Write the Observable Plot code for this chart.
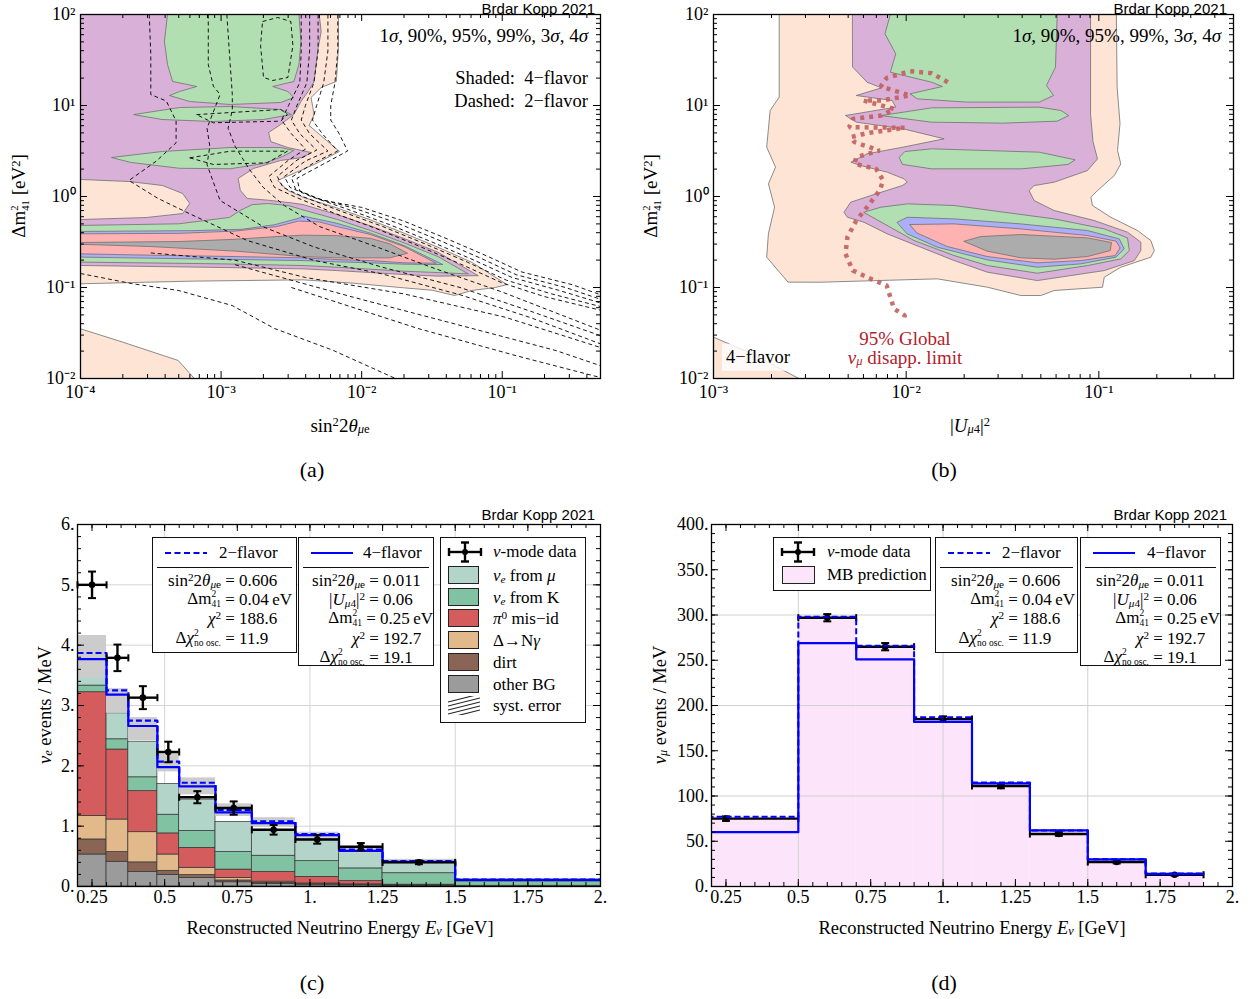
<!DOCTYPE html>
<html><head><meta charset="utf-8">
<script src="https://cdn.jsdelivr.net/npm/d3@7"></script>
<script src="https://cdn.jsdelivr.net/npm/@observablehq/plot@0.6"></script>
<style>
html,body{margin:0;padding:0;background:#fff;}
#root{position:relative;width:1255px;height:999px;overflow:hidden;font-family:"Liberation Serif","Times New Roman",serif;color:#000;}
.pnl{position:absolute;}
.t{position:absolute;white-space:nowrap;line-height:1;}
.c{transform:translate(-50%,-50%);}
.rot{transform:translate(-50%,-50%) rotate(-90deg);}
.ss{display:inline-block;vertical-align:-0.36em;line-height:1;font-size:0.56em;text-align:left;}
.ss>span{display:block;}
.credit{font-family:"Liberation Sans",Arial,sans-serif;font-size:15px;}
.box{position:absolute;border:1.3px solid #111;background:#fff;font-size:17px;box-sizing:border-box;}
.row{position:absolute;left:0;right:0;height:19px;display:flex;align-items:center;white-space:nowrap;line-height:1;}
.lhs{display:inline-block;text-align:right;}
.sw{position:absolute;width:31px;height:18px;border:1px solid #222;box-sizing:border-box;}
sub,sup{font-size:0.66em;line-height:0;}
sub{vertical-align:-0.14em;}
sup{vertical-align:0.42em;}
</style></head><body><div id="root"></div>
<script>
// ======================= DATA =======================
// Panel (a): 4-flavour allowed regions, vertices [log10 sin²2θμe, log10 Δm²41 (eV²)]
const aRegion4sigma = [[-4,2],[-2.165,2],[-2.165,1.637],[-2.18,1.264],[-2.288,1.198],[-2.36,1.088],[-2.338,0.901],[-2.374,0.78],[-2.158,0.495],[-2.338,0.352],[-2.597,0.176],[-2.525,0.066],[-2.417,-0.008],[-2.177,-0.125],[-1.937,-0.257],[-1.698,-0.403],[-1.458,-0.557],[-1.218,-0.722],[-0.966,-0.968],[-1.05,-1.0],[-1.218,-1.033],[-1.338,-1.088],[-1.5,-1.03],[-1.698,-1.004],[-2.057,-0.953],[-2.417,-0.916],[-3.2,-0.93],[-4,-0.959]];
const aRegion3sigma = [[-4,2],[-2.302,2],[-2.288,1.813],[-2.309,1.637],[-2.324,1.451],[-2.338,1.264],[-2.381,1.154],[-2.432,1.044],[-2.482,0.901],[-2.576,0.791],[-2.662,0.703],[-2.647,0.604],[-2.525,0.538],[-2.36,0.484],[-2.417,0.429],[-2.576,0.396],[-2.77,0.308],[-2.878,0.198],[-2.863,0.066],[-2.813,-0.022],[-2.669,-0.04],[-2.5,-0.07],[-2.417,-0.088],[-2.177,-0.198],[-1.937,-0.323],[-1.698,-0.462],[-1.458,-0.612],[-1.17,-0.87],[-1.458,-0.875],[-1.698,-0.858],[-1.937,-0.836],[-2.177,-0.814],[-2.417,-0.795],[-3,-0.78],[-4,-0.758]];
const aHole4sigma = [[-4,0.187],[-3.655,0.165],[-3.417,0.121],[-3.273,0.033],[-3.223,-0.077],[-3.273,-0.187],[-3.532,-0.231],[-4,-0.253]];
const aRegion99Top = [[-3.381,2],[-3.403,1.703],[-3.381,1.451],[-3.345,1.264],[-3.173,1.209],[-3.295,1.154],[-3.367,1.11],[-3.223,1.044],[-2.935,1.011],[-2.576,1.033],[-2.482,1.088],[-2.525,1.154],[-2.633,1.209],[-2.482,1.264],[-2.446,1.451],[-2.432,1.703],[-2.446,2]];
const aRegion99Lens1 = [[-3.619,0.901],[-3.295,0.978],[-2.935,0.989],[-2.576,0.956],[-2.5,0.901],[-2.698,0.846],[-3.058,0.824],[-3.417,0.846]];
const aRegion99Lens2 = [[-3.777,0.429],[-3.417,0.495],[-2.935,0.538],[-2.576,0.538],[-2.482,0.505],[-2.561,0.44],[-2.698,0.363],[-2.935,0.305],[-3.295,0.31],[-3.64,0.374]];
const aRegion99Low = [[-4,-0.318],[-3.3,-0.3],[-2.94,-0.23],[-2.86,-0.15],[-2.78,-0.09],[-2.67,-0.077],[-2.52,-0.1],[-2.417,-0.147],[-2.177,-0.25],[-1.937,-0.374],[-1.698,-0.51],[-1.458,-0.66],[-1.242,-0.85],[-1.458,-0.836],[-1.698,-0.821],[-1.937,-0.799],[-2.177,-0.777],[-2.417,-0.759],[-3,-0.74],[-4,-0.721]];
const aRegion95 = [[-4,-0.384],[-3.2,-0.375],[-2.85,-0.36],[-2.62,-0.31],[-2.45,-0.24],[-2.417,-0.215],[-2.177,-0.294],[-1.937,-0.403],[-1.698,-0.539],[-1.422,-0.748],[-1.698,-0.744],[-1.937,-0.729],[-2.177,-0.718],[-2.417,-0.704],[-3,-0.69],[-4,-0.666]];
const aRegion90 = [[-4,-0.41],[-3.3,-0.405],[-2.9,-0.38],[-2.6,-0.33],[-2.45,-0.27],[-2.3,-0.28],[-2.177,-0.33],[-1.937,-0.418],[-1.698,-0.55],[-1.47,-0.733],[-1.698,-0.729],[-1.937,-0.704],[-2.177,-0.693],[-2.417,-0.674],[-2.9,-0.66],[-3.5,-0.645],[-4,-0.63]];
const aRegion1sigma = [[-4,-0.505],[-3.3,-0.495],[-2.9,-0.47],[-2.6,-0.44],[-2.417,-0.425],[-2.177,-0.43],[-1.937,-0.46],[-1.8,-0.52],[-1.674,-0.623],[-1.8,-0.674],[-2.177,-0.674],[-2.417,-0.66],[-2.9,-0.6],[-3.5,-0.55],[-4,-0.525]];
const aCorner4sigma = [[-4,-1.454],[-3.7,-1.6],[-3.305,-1.802],[-3.19,-2],[-4,-2]];
// Panel (a): 2-flavour contours (dashed), same coordinates
const aDashed2f = [
 [[-2.43,2],[-2.43,1.6],[-2.44,1.25],[-2.52,1],[-2.57,0.84],[-2.5,0.69],[-2.4,0.52],[-2.52,0.4],[-2.66,0.22],[-2.62,0.1],[-2.48,0],[-2.2,-0.18],[-1.9,-0.35],[-1.6,-0.54],[-1.3,-0.74],[-1,-0.95],[-0.7,-1.1],[-0.3,-1.25]],
 [[-2.37,2],[-2.37,1.6],[-2.39,1.25],[-2.46,1],[-2.5,0.84],[-2.44,0.69],[-2.32,0.51],[-2.46,0.4],[-2.6,0.22],[-2.56,0.1],[-2.42,0],[-2.15,-0.16],[-1.85,-0.33],[-1.55,-0.52],[-1.25,-0.72],[-0.97,-0.92],[-0.65,-1.07],[-0.3,-1.21]],
 [[-2.31,2],[-2.31,1.6],[-2.34,1.25],[-2.4,1],[-2.43,0.84],[-2.37,0.69],[-2.24,0.5],[-2.4,0.39],[-2.55,0.22],[-2.51,0.1],[-2.36,0],[-2.1,-0.14],[-1.8,-0.31],[-1.5,-0.5],[-1.2,-0.7],[-0.93,-0.89],[-0.6,-1.03],[-0.3,-1.17]],
 [[-2.24,2],[-2.24,1.6],[-2.27,1.25],[-2.32,1],[-2.35,0.84],[-2.28,0.69],[-2.17,0.5],[-2.34,0.37],[-2.5,0.21],[-2.47,0.08],[-2.32,-0.02],[-2.05,-0.13],[-1.75,-0.29],[-1.45,-0.48],[-1.15,-0.68],[-0.9,-0.86],[-0.55,-1],[-0.3,-1.13]],
 [[-2.17,2],[-2.17,1.6],[-2.19,1.25],[-2.22,1],[-2.22,0.84],[-2.16,0.69],[-2.1,0.5],[-2.28,0.35],[-2.46,0.2],[-2.44,0.06],[-2.28,-0.04],[-2,-0.12],[-1.7,-0.27],[-1.4,-0.46],[-1.1,-0.66],[-0.86,-0.83],[-0.5,-0.97],[-0.3,-1.08]],
 [[-2.705,1.923],[-2.597,1.967],[-2.504,1.923],[-2.489,1.659],[-2.525,1.308],[-2.633,1.275],[-2.698,1.308],[-2.719,1.659],[-2.705,1.923]],
 [[-3.175,0.9],[-2.576,0.956],[-2.528,0.901],[-2.576,0.828],[-3.055,0.81],[-3.175,0.9]],
 [[-3.223,0.425],[-2.935,0.498],[-2.528,0.498],[-2.671,0.37],[-3.055,0.352],[-3.223,0.425]],
 [[-3.511,2],[-3.5,1.56],[-3.5,1.12],[-3.39,1.05],[-3.32,0.83],[-3.32,0.59],[-3.46,0.39],[-3.655,0.176],[-3.45,-0.02],[-3.223,-0.19],[-2.815,-0.483],[-2.336,-0.703],[-1.856,-0.85],[-1.3,-1.08],[-0.8,-1.33],[-0.3,-1.62]],
 [[-3.091,2],[-3.091,1.451],[-3.055,1.212],[-3.007,1.121],[-3.05,0.95],[-3.1,0.75],[-3.08,0.55],[-3.1,0.35],[-3.007,-0.044],[-2.695,-0.337],[-2.336,-0.556],[-1.856,-0.776],[-1.3,-1],[-0.8,-1.26],[-0.3,-1.53]],
 [[-2.959,2],[-2.935,1.451],[-2.92,1.12],[-2.92,0.95],[-2.95,0.75],[-2.9,0.55],[-2.8,0.3],[-2.7,0.1],[-2.55,-0.1],[-2.3,-0.33],[-1.9,-0.55],[-1.5,-0.78],[-1,-1.05],[-0.3,-1.47]],
 [[-4,-0.846],[-3.64,-0.956],[-3.302,-1.033],[-2.921,-1.198],[-2.619,-1.451],[-2.201,-1.692],[-1.76,-2]],
 [[-3.5,-0.62],[-2.9,-0.7],[-2.4,-0.89],[-1.7,-1.07],[-0.978,-1.327],[-0.3,-1.66]],
 [[-2.9,-0.75],[-2.06,-1.107],[-1.338,-1.4],[-0.618,-1.693],[-0.3,-1.86]],
 [[-2.5,-1],[-1.6,-1.45],[-0.9,-1.75],[-0.3,-1.99]]
];
// Panel (b): vertices [log10 |Uμ4|², log10 Δm²41]
const bRegion4sigma = [[-2.659,2],[-2.659,1.092],[-2.706,0.945],[-2.724,0.542],[-2.678,0.322],[-2.715,0.139],[-2.683,-0.117],[-2.715,-0.41],[-2.724,-0.667],[-2.613,-0.941],[-2.444,-0.942],[-1.838,-0.905],[-1.578,-0.997],[-1.405,-1.088],[-1.301,-1.088],[-1.232,-1.033],[-0.981,-0.997],[-0.972,-0.887],[-0.886,-0.777],[-0.73,-0.667],[-0.712,-0.594],[-0.73,-0.484],[-0.799,-0.374],[-0.938,-0.228],[-1.033,-0.099],[-1.041,-0.008],[-1.007,0.065],[-0.92,0.23],[-0.886,0.358],[-0.903,0.505],[-0.89,0.8],[-0.905,1.2],[-0.909,2]];
const bRegion3sigma = [[-2.277,2],[-1.043,2],[-1.043,0.9],[-1.03,0.6],[-1.007,0.413],[-1.059,0.285],[-1.232,0.157],[-1.336,0.12],[-1.362,0.065],[-1.336,-0.044],[-1.232,-0.154],[-1.024,-0.264],[-0.851,-0.392],[-0.782,-0.502],[-0.782,-0.594],[-0.816,-0.704],[-0.972,-0.814],[-1.319,-0.924],[-1.578,-0.832],[-1.751,-0.704],[-1.925,-0.557],[-2.098,-0.411],[-2.219,-0.283],[-2.305,-0.228],[-2.323,-0.173],[-2.288,-0.063],[-2.184,0.01],[-2.02,0.12],[-1.994,0.157],[-2.011,0.194],[-2.098,0.267],[-2.236,0.34],[-2.287,0.377],[-2.203,0.469],[-2.017,0.542],[-1.803,0.634],[-2.017,0.744],[-2.259,0.817],[-2.315,0.89],[-2.054,0.982],[-2.073,1.055],[-2.259,1.11],[-2.128,1.194],[-2.203,1.256],[-2.277,1.421]];
const bRegion99Top = [[-2.082,2],[-2.11,1.788],[-2.054,1.568],[-2.082,1.366],[-1.868,1.256],[-1.812,1.209],[-1.98,1.128],[-1.942,1.073],[-1.682,1.037],[-1.309,1.037],[-1.235,1.11],[-1.272,1.22],[-1.225,1.421],[-1.216,2]];
const bRegion99Lens1 = [[-2.128,0.89],[-1.868,0.974],[-1.309,0.982],[-1.197,0.945],[-1.156,0.89],[-1.216,0.828],[-1.495,0.806],[-1.868,0.817]];
const bRegion99Lens2 = [[-2.035,0.432],[-2.007,0.494],[-1.868,0.524],[-1.309,0.487],[-1.123,0.403],[-1.16,0.352],[-1.402,0.304],[-1.868,0.304],[-2.017,0.352]];
const bRegion99Low = [[-2.219,-0.173],[-2.132,-0.118],[-1.994,-0.081],[-1.751,-0.099],[-1.492,-0.173],[-1.232,-0.246],[-0.972,-0.356],[-0.851,-0.455],[-0.842,-0.594],[-0.886,-0.686],[-1.059,-0.759],[-1.319,-0.843],[-1.578,-0.759],[-1.751,-0.649],[-1.959,-0.484],[-2.098,-0.319]];
const bRegion95 = [[-2.046,-0.283],[-1.994,-0.228],[-1.751,-0.246],[-1.405,-0.301],[-1.059,-0.374],[-0.894,-0.466],[-0.868,-0.576],[-0.912,-0.667],[-1.093,-0.74],[-1.319,-0.777],[-1.578,-0.697],[-1.838,-0.557],[-1.994,-0.411]];
const bRegion90 = [[-1.98,-0.308],[-1.751,-0.301],[-1.405,-0.356],[-1.059,-0.429],[-0.91,-0.491],[-0.89,-0.565],[-0.915,-0.649],[-1.093,-0.704],[-1.319,-0.729],[-1.578,-0.66],[-1.786,-0.55],[-1.942,-0.403]];
const bRegion1sigma = [[-1.699,-0.491],[-1.613,-0.44],[-1.405,-0.418],[-1.059,-0.455],[-0.934,-0.506],[-0.941,-0.594],[-1.059,-0.66],[-1.232,-0.689],[-1.405,-0.674],[-1.578,-0.601]];
const bCorner4sigma = [[-3,-1.546],[-2.799,-1.729],[-2.557,-2],[-3,-2]];
const bNumuDisappLimit = [[-1.784,1.256],[-1.868,1.355],[-1.98,1.377],[-2.101,1.304],[-2.132,1.209],[-1.98,1.11],[-2.128,1.055],[-2.222,1.055],[-2.063,0.963],[-2.128,0.89],[-2.277,0.853],[-2.296,0.762],[-2.007,0.755],[-2.203,0.696],[-2.287,0.652],[-2.268,0.597],[-2.138,0.505],[-2.259,0.432],[-2.268,0.359],[-2.156,0.304],[-2.119,0.176],[-2.138,0.066],[-2.203,-0.117],[-2.259,-0.264],[-2.305,-0.447],[-2.315,-0.63],[-2.277,-0.813],[-2.184,-0.905],[-2.101,-0.978],[-2.082,-1.106],[-2.063,-1.234],[-2.007,-1.308],[-2.013,-1.381]];
const logXTicksA = [1e-4,1e-3,1e-2,1e-1];
const logXTicksB = [1e-3,1e-2,1e-1];
const logYTicks = [1e-2,1e-1,1,10,100];

// Panel (c): MiniBooNE nu-mode electron-like events / MeV
const cEdges = [0.2,0.3,0.375,0.475,0.55,0.675,0.8,0.95,1.1,1.25,1.5,3.0];
const cOtherBG = [0.53,0.41,0.24,0.19,0.14,0.07,0.04,0.03,0.02,0.01,0.005];
const cDirt = [0.25,0.16,0.16,0.07,0.05,0.03,0.02,0.01,0.01,0.005,0.003];
const cDeltaNgamma = [0.39,0.54,0.5,0.27,0.12,0.04,0.02,0.01,0.005,0.005,0.002];
const cPi0 = [2.05,1.16,0.68,0.35,0.33,0.14,0.16,0.11,0.055,0.01,0.002];
const cNueFromK = [0.11,0.17,0.23,0.31,0.28,0.29,0.27,0.26,0.21,0.19,0.073];
const cNueFromMu = [0.28,0.43,0.59,0.51,0.52,0.5,0.41,0.36,0.29,0.16,0.015];
const cSystLow = [3.45,2.87,2.42,1.9,1.52,1.16,0.98,0.8,0.55,0.37,0.09];
const cSystHigh = [4.16,3.28,2.8,2.22,1.8,1.37,1.14,0.9,0.64,0.45,0.13];
const c4flavor = [3.77,3.18,2.66,1.98,1.66,1.23,1.05,0.85,0.59,0.41,0.11];
const c2flavor = [3.87,3.25,2.75,2.07,1.72,1.27,1.08,0.87,0.61,0.42,0.115];
const cData = [5.0,3.79,3.13,2.23,1.48,1.30,0.94,0.78,0.66,0.40];
const cDataErr = [0.22,0.22,0.19,0.17,0.1,0.11,0.08,0.07,0.06,0.03];
const cXTicks = [0.25,0.5,0.75,1,1.25,1.5,1.75,2];
const cYTicks = [0,1,2,3,4,5,6];

// Panel (d): MiniBooNE nu-mode muon-like events / MeV
const dEdges = [0,0.5,0.7,0.9,1.1,1.3,1.5,1.7,1.9];
const dData = [75,297,265,185,111,58,27,13];
const dDataErr = [2.5,4,4,3,2.5,2,1.5,1];
const dMBprediction = [77,298,266,187,115,62,30,14.3];
const d2flavor = [77,298,266,187,115,62,30,14.3];
const d4flavor = [60,269,251,182,114,62,30,14];
const dXTicks = [0.25,0.5,0.75,1,1.25,1.5,1.75,2];
const dYTicks = [0,50,100,150,200,250,300,350,400];

// ======================= STYLE =======================
const COL = {s4:"#fde4d5", s3:"#d8b0d8", c99:"#b2dfb2", c95:"#acaef8", c90:"#ffb2b2", s1:"#acacac"};
const STACK = {other:"#9b9b9b", dirt:"#8a6555", delta:"#e2b98a", pi0:"#d45c5c", K:"#80c2a1", mu:"#b3d5c9"};
const PINK = "#fce4fa";
const PSTYLE = {fontFamily:"Liberation Serif, Times New Roman, serif", fontSize:"18px", background:"transparent", overflow:"visible"};

// ======================= HELPERS =======================
const root = document.getElementById("root");
const SUP = {"-":"⁻","0":"⁰","1":"¹","2":"²","3":"³","4":"⁴","5":"⁵","6":"⁶","7":"⁷","8":"⁸","9":"⁹"};
const pow10 = v => "10" + String(Math.round(Math.log10(v))).replace(/./g, c => SUP[c]);
const mma = v => Number.isInteger(v) ? v + "." : String(v);
const toPts = arr => arr.map(([lx, ly]) => ({x: 10 ** lx, y: 10 ** ly}));
const poly = (arr, fill) => Plot.line(toPts(arr), {x:"x", y:"y", fill, stroke:"#707070", strokeWidth:0.8, curve:"linear-closed", clip:true});
const dashLine = arr => Plot.line(toPts(arr), {x:"x", y:"y", stroke:"#000", strokeWidth:0.9, strokeDasharray:"4,3", strokeLinecap:"butt", clip:true});
function logMinor(lo, hi){ const o=[]; for(let k=-5;k<=3;k++) for(let m=2;m<=9;m++){const v=m*10**k; if(v>lo*1.0001&&v<hi*0.9999) o.push(v);} return o; }
function linMinor(lo, hi, step){ const o=[]; for(let v=lo; v<=hi+1e-9; v+=step) o.push(+v.toFixed(6)); return o; }
function frameTicks(xMaj, xMin, yMaj, yMin, fw, fh){
  const m = [];
  for (const [xs, len] of [[xMaj, 7], [xMin, 4]]) {
    m.push(Plot.tickX(xs, {x: d=>d, insetTop: fh-len, stroke:"#000"}));
    m.push(Plot.tickX(xs, {x: d=>d, insetBottom: fh-len, stroke:"#000"}));
  }
  for (const [ys, len] of [[yMaj, 7], [yMin, 4]]) {
    m.push(Plot.tickY(ys, {y: d=>d, insetRight: fw-len, stroke:"#000"}));
    m.push(Plot.tickY(ys, {y: d=>d, insetLeft: fw-len, stroke:"#000"}));
  }
  return m;
}
function place(el, left, top){ const d=document.createElement("div"); d.className="pnl"; d.style.left=left+"px"; d.style.top=top+"px"; d.appendChild(el); root.appendChild(d); return el; }
function txt(html, x, y, cls="c", extra=""){ const d=document.createElement("div"); d.className="t "+cls; d.style.cssText += `left:${x}px;top:${y}px;${extra}`; d.innerHTML=html; root.appendChild(d); return d; }
function rtxt(html, xr, y, extra=""){ const d=document.createElement("div"); d.className="t"; d.style.cssText += `right:${1255-xr}px;top:${y}px;transform:translateY(-50%);${extra}`; d.innerHTML=html; root.appendChild(d); return d; }
function steps(edges, vals){ const p=[]; vals.forEach((v,i)=>{p.push({x:edges[i],y:v},{x:edges[i+1],y:v});}); return p; }
const hcap = {draw(ctx, size){ const w=Math.sqrt(size)/2; ctx.moveTo(-w,0); ctx.lineTo(w,0); }};
const vcap = {draw(ctx, size){ const w=Math.sqrt(size)/2; ctx.moveTo(0,-w); ctx.lineTo(0,w); }};
function dataMarks(edges, vals, errs, xc){
  const rows = vals.map((v,i)=>({x1:edges[i], x2:edges[i+1], xc:xc[i], v, lo:v-errs[i], hi:v+errs[i]}));
  return [
    Plot.ruleY(rows, {y:"v", x1:"x1", x2:"x2", stroke:"#000", strokeWidth:2.4, clip:true}),
    Plot.ruleX(rows, {x:"xc", y1:"lo", y2:"hi", stroke:"#000", strokeWidth:2.4}),
    Plot.dot(rows, {x:"xc", y:"lo", symbol:hcap, r:4.5, fill:"none", stroke:"#000", strokeWidth:2}),
    Plot.dot(rows, {x:"xc", y:"hi", symbol:hcap, r:4.5, fill:"none", stroke:"#000", strokeWidth:2}),
    Plot.dot(rows.filter(r=>r.x1>=0.2), {x:"x1", y:"v", symbol:vcap, r:4, fill:"none", stroke:"#000", strokeWidth:2}),
    Plot.dot(rows, {x:"x2", y:"v", symbol:vcap, r:4, fill:"none", stroke:"#000", strokeWidth:2}),
    Plot.dot(rows, {x:"xc", y:"v", r:3.3, fill:"#000", stroke:"none"})
  ];
}
const ss = (a,b) => `<span class="ss"><span>${a}</span><span>${b}</span></span>`;
const SIN2 = "sin<sup>2</sup>2<i>θ</i><sub><i>μ</i>e</sub>";
const UMU4 = "|<i>U</i><sub><i>μ</i>4</sub>|<sup>2</sup>";
const DM41 = "Δm" + ss("2","41");

// ======================= PANEL (a) =======================
const aPlot = Plot.plot({
  width:620, height:400, marginLeft:80, marginRight:20, marginTop:14, marginBottom:22, style:PSTYLE,
  x:{type:"log", domain:[1e-4,0.5], label:null}, y:{type:"log", domain:[1e-2,100], label:null},
  marks:[
    poly(aRegion4sigma, COL.s4), poly(aRegion3sigma, COL.s3), poly(aHole4sigma, COL.s4),
    poly(aRegion99Top, COL.c99), poly(aRegion99Lens1, COL.c99), poly(aRegion99Lens2, COL.c99), poly(aRegion99Low, COL.c99),
    poly(aRegion95, COL.c95), poly(aRegion90, COL.c90), poly(aRegion1sigma, COL.s1), poly(aCorner4sigma, COL.s4),
    ...aDashed2f.map(dashLine),
    ...frameTicks(logXTicksA, logMinor(1e-4,0.5), logYTicks, logMinor(1e-2,100), 520, 364),
    Plot.frame({stroke:"#000", strokeWidth:1.3}),
    Plot.axisX({ticks:logXTicksA, tickFormat:pow10, tickSize:0, tickPadding:7, label:null}),
    Plot.axisY({ticks:logYTicks, tickFormat:pow10, tickSize:0, tickPadding:5, label:null})
  ]
});
place(aPlot, 0, 0);

// ======================= PANEL (b) =======================
const bPlot = Plot.plot({
  width:620, height:400, marginLeft:80, marginRight:20, marginTop:14, marginBottom:22, style:PSTYLE,
  x:{type:"log", domain:[1e-3,0.5], label:null}, y:{type:"log", domain:[1e-2,100], label:null},
  marks:[
    poly(bRegion4sigma, COL.s4), poly(bRegion3sigma, COL.s3),
    poly(bRegion99Top, COL.c99), poly(bRegion99Lens1, COL.c99), poly(bRegion99Lens2, COL.c99), poly(bRegion99Low, COL.c99),
    poly(bRegion95, COL.c95), poly(bRegion90, COL.c90), poly(bRegion1sigma, COL.s1), poly(bCorner4sigma, COL.s4),
    Plot.line(toPts(bNumuDisappLimit), {x:"x", y:"y", stroke:"#c25f5f", strokeWidth:4.5, strokeDasharray:"4,5", strokeLinecap:"butt", strokeLinejoin:"miter", strokeOpacity:0.9, clip:true}),
    ...frameTicks(logXTicksB, logMinor(1e-3,0.5), logYTicks, logMinor(1e-2,100), 520, 364),
    Plot.frame({stroke:"#000", strokeWidth:1.3}),
    Plot.axisX({ticks:logXTicksB, tickFormat:pow10, tickSize:0, tickPadding:7, label:null}),
    Plot.axisY({ticks:logYTicks, tickFormat:pow10, tickSize:0, tickPadding:5, label:null})
  ]
});
place(bPlot, 633, 0);

// ======================= PANEL (c) =======================
const stackRows = []; const base = cEdges.slice(0,-1).map(()=>0);
for (const [vals, color] of [[cOtherBG,STACK.other],[cDirt,STACK.dirt],[cDeltaNgamma,STACK.delta],[cPi0,STACK.pi0],[cNueFromK,STACK.K],[cNueFromMu,STACK.mu]])
  vals.forEach((v,i)=>{ stackRows.push({x1:cEdges[i], x2:cEdges[i+1], y1:base[i], y2:base[i]+v, color}); base[i]+=v; });
const systRows = cSystLow.map((lo,i)=>({x1:cEdges[i], x2:cEdges[i+1], y1:lo, y2:cSystHigh[i]}));
const cCenters = cData.map((_,i)=>(cEdges[i]+cEdges[i+1])/2);
const cPlot = Plot.plot({
  width:620, height:400, marginLeft:77, marginRight:20, marginTop:14, marginBottom:24, style:PSTYLE,
  x:{domain:[0.2,2], label:null}, y:{domain:[0,6], label:null}, color:{type:"identity"},
  marks:[
    Plot.ruleX([0.5,1,1.5], {stroke:"#d4d4d4"}), Plot.ruleY([1,2,3,4,5], {stroke:"#d4d4d4"}),
    Plot.rect(stackRows, {x1:"x1", x2:"x2", y1:"y1", y2:"y2", fill:"color", stroke:"#333", strokeWidth:0.7, clip:true}),
    Plot.rect(systRows, {x1:"x1", x2:"x2", y1:"y1", y2:"y2", fill:"#ccc", ariaLabel:"hatch", clip:true}),
    Plot.line(steps(cEdges, c4flavor), {x:"x", y:"y", stroke:"#0000ff", strokeWidth:2.2, clip:true}),
    Plot.line(steps(cEdges, c2flavor), {x:"x", y:"y", stroke:"#0000ff", strokeWidth:2.2, strokeDasharray:"6,3", strokeLinecap:"butt", clip:true}),
    ...dataMarks(cEdges, cData, cDataErr, cCenters),
    ...frameTicks(cXTicks, linMinor(0.2,2,0.05), cYTicks, linMinor(0,6,0.2), 523, 362),
    Plot.frame({stroke:"#000", strokeWidth:1.3}),
    Plot.axisX({ticks:cXTicks, tickFormat:mma, tickSize:0, tickPadding:4, label:null}),
    Plot.axisY({ticks:cYTicks, tickFormat:mma, tickSize:0, tickPadding:3, label:null})
  ]
});
place(cPlot, 0, 510);
(function addHatch(svg){
  const ns="http://www.w3.org/2000/svg";
  const defs=document.createElementNS(ns,"defs");
  defs.innerHTML='<pattern id="hatchC" patternUnits="userSpaceOnUse" width="12" height="3.6" patternTransform="rotate(-15)"><line x1="0" y1="1.8" x2="12" y2="1.8" stroke="#9a9a9a" stroke-width="0.75"/></pattern>';
  svg.insertBefore(defs, svg.firstChild);
  svg.querySelectorAll('g[aria-label="hatch"] rect').forEach(r=>r.setAttribute("fill","url(#hatchC)"));
})(cPlot);

// ======================= PANEL (d) =======================
const predRows = dMBprediction.map((v,i)=>({x1:dEdges[i], x2:dEdges[i+1], y:v}));
const dCenters = dData.map((_,i)=>(dEdges[i]+dEdges[i+1])/2);
const dPlot = Plot.plot({
  width:620, height:400, marginLeft:78, marginRight:21, marginTop:14, marginBottom:24, style:PSTYLE,
  x:{domain:[0.2,2], label:null}, y:{domain:[0,400], label:null},
  marks:[
    Plot.rect(predRows, {x1:"x1", x2:"x2", y1:0, y2:"y", fill:PINK, clip:true}),
    Plot.ruleX([0.5,1,1.5], {stroke:"#d0d0d0"}), Plot.ruleY([100,200,300], {stroke:"#d0d0d0"}),
    ...dataMarks(dEdges, dData, dDataErr, dCenters),
    Plot.line(steps(dEdges, d4flavor), {x:"x", y:"y", stroke:"#0000ff", strokeWidth:2.2, clip:true}),
    Plot.line(steps(dEdges, d2flavor), {x:"x", y:"y", stroke:"#0000ff", strokeWidth:2, strokeDasharray:"6,3", strokeLinecap:"butt", clip:true}),
    ...frameTicks(dXTicks, linMinor(0.2,2,0.05), dYTicks, linMinor(0,400,10), 521, 362),
    Plot.frame({stroke:"#000", strokeWidth:1.3}),
    Plot.axisX({ticks:dXTicks, tickFormat:mma, tickSize:0, tickPadding:4, label:null}),
    Plot.axisY({ticks:dYTicks, tickFormat:mma, tickSize:0, tickPadding:3, label:null})
  ]
});
place(dPlot, 633, 510);

// ======================= TEXT =======================
for (const [xr, y] of [[595,8],[1227,8],[595,514],[1227,514]]) rtxt("Brdar Kopp 2021", xr, y).classList.add("credit");
const sig = "1<i>σ</i>, 90%, 95%, 99%, 3<i>σ</i>, 4<i>σ</i>";
rtxt(sig, 588, 35, "font-size:19px;");
rtxt("Shaded:&nbsp;&nbsp;4−flavor", 588, 78, "font-size:18.5px;");
rtxt("Dashed:&nbsp;&nbsp;2−flavor", 588, 101, "font-size:18.5px;");
txt(SIN2, 340, 425, "c", "font-size:19px;");
txt(DM41 + " [eV<sup>2</sup>]", 20, 196, "rot", "font-size:19px;");
txt("(a)", 312, 470, "c", "font-size:22px;");
rtxt(sig, 1221, 35, "font-size:19px;");
txt("4−flavor", 758, 357, "c", "font-size:18.5px;background:rgba(255,255,255,0.82);padding:4px 4px;");
txt("95% Global", 905, 338, "c", "font-size:19px;color:#b3202a;");
txt("<i>ν</i><sub><i>μ</i></sub> disapp. limit", 905, 357, "c", "font-size:19px;color:#b3202a;");
txt(UMU4, 970, 425, "c", "font-size:19px;");
txt(DM41 + " [eV<sup>2</sup>]", 652, 196, "rot", "font-size:19px;");
txt("(b)", 944, 470, "c", "font-size:22px;");
const EN = "Reconstructed Neutrino Energy <i>E</i><sub><i>ν</i></sub> [GeV]";
txt(EN, 340, 928, "c", "font-size:18.5px;");
txt(EN, 972, 928, "c", "font-size:18.5px;");
txt("<i>ν</i><sub><i>e</i></sub> events / MeV", 45, 705, "rot", "font-size:18.5px;");
txt("<i>ν</i><sub><i>μ</i></sub> events / MeV", 660, 705, "rot", "font-size:18.5px;");
txt("(c)", 312, 983, "c", "font-size:22px;");
txt("(d)", 944, 983, "c", "font-size:22px;");

// ======================= LEGEND BOXES =======================
function box(left, top, w, h){ const b=document.createElement("div"); b.className="box"; b.style.cssText+=`left:${left}px;top:${top}px;width:${w}px;height:${h}px;`; root.appendChild(b); return b; }
function lineSample(dashed){ return `<svg width="42" height="6" style="position:absolute;left:12px;top:12px"><line x1="0" y1="3" x2="42" y2="3" stroke="#0000ff" stroke-width="2.2" ${dashed?'stroke-dasharray="6,3.5"':''}/></svg>`; }
function paramBox(left, top, w, h, dashed, title, rows, eqX){
  const b = box(left, top, w, h);
  let html = lineSample(dashed) + `<div class="row" style="top:5px;left:${eqX-2}px"><span>${title}</span></div>`;
  html += `<div style="position:absolute;left:4px;right:4px;top:29px;border-top:1.3px solid #111"></div>`;
  const ys = [33, 52, 71, 91, 110];
  rows.forEach(([l, r], i) => { html += `<div class="row" style="top:${ys[i]}px"><span class="lhs" style="width:${eqX}px">${l}</span><span>&nbsp;= ${r}</span></div>`; });
  b.innerHTML = html;
}
const rows2f = [[SIN2,"0.606"],[DM41,"0.04&thinsp;eV"],["<i>χ</i><sup>2</sup>","188.6"],["Δ<i>χ</i>"+ss("2","no osc."),"11.9"]];
const rows4f = [[SIN2,"0.011"],[UMU4,"0.06"],[DM41,"0.25&thinsp;eV"],["<i>χ</i><sup>2</sup>","192.7"],["Δ<i>χ</i>"+ss("2","no osc."),"19.1"]];
paramBox(152, 537, 145, 116, true, "2−flavor", rows2f, 68);
paramBox(298, 537, 136, 129, false, "4−flavor", rows4f, 66);
paramBox(935, 537, 143, 116, true, "2−flavor", rows2f, 68);
paramBox(1080, 537, 141, 129, false, "4−flavor", rows4f, 68);

const crossSvg = `<svg width="36" height="22" style="position:absolute;left:6px;top:3px"><g stroke="#000" stroke-width="2.4"><line x1="2" y1="11" x2="34" y2="11"/><line x1="18" y1="1" x2="18" y2="21"/><line x1="2" y1="7" x2="2" y2="15"/><line x1="34" y1="7" x2="34" y2="15"/><line x1="14" y1="1.5" x2="22" y2="1.5"/><line x1="14" y1="20.5" x2="22" y2="20.5"/></g><circle cx="18" cy="11" r="3" fill="#000"/></svg>`;
(function(){
  const b = box(440, 537, 146, 186);
  let html = crossSvg + `<div class="row" style="top:4px;left:52px"><span><i>ν</i>-mode data</span></div>`;
  const items = [[STACK.mu,"<i>ν</i><sub><i>e</i></sub> from <i>μ</i>"],[STACK.K,"<i>ν</i><sub><i>e</i></sub> from K"],[STACK.pi0,"<i>π</i><sup>0</sup> mis−id"],[STACK.delta,"Δ→N<i>γ</i>"],[STACK.dirt,"dirt"],[STACK.other,"other BG"]];
  items.forEach(([c,l],i)=>{ const y = 28 + i*21.7; html += `<div class="sw" style="left:7px;top:${y}px;background:${c}"></div><div class="row" style="top:${y}px;left:52px"><span>${l}</span></div>`; });
  const y = 28 + 6*21.7;
  html += `<svg width="32" height="19" style="position:absolute;left:7px;top:${y}px"><g stroke="#222" stroke-width="1.1">${[2,6,10,14,18].map(k=>`<line x1="0" y1="${k+4}" x2="32" y2="${k-4}"/>`).join("")}</g></svg><div class="row" style="top:${y}px;left:52px"><span>syst. error</span></div>`;
  b.innerHTML = html;
})();
(function(){
  const b = box(773, 537, 158, 54);
  let html = crossSvg + `<div class="row" style="top:4px;left:53px"><span><i>ν</i>-mode data</span></div>`;
  html += `<div class="sw" style="left:8px;top:28px;width:33px;background:${PINK}"></div><div class="row" style="top:27px;left:53px"><span>MB prediction</span></div>`;
  b.innerHTML = html;
})();
</script></body></html>
